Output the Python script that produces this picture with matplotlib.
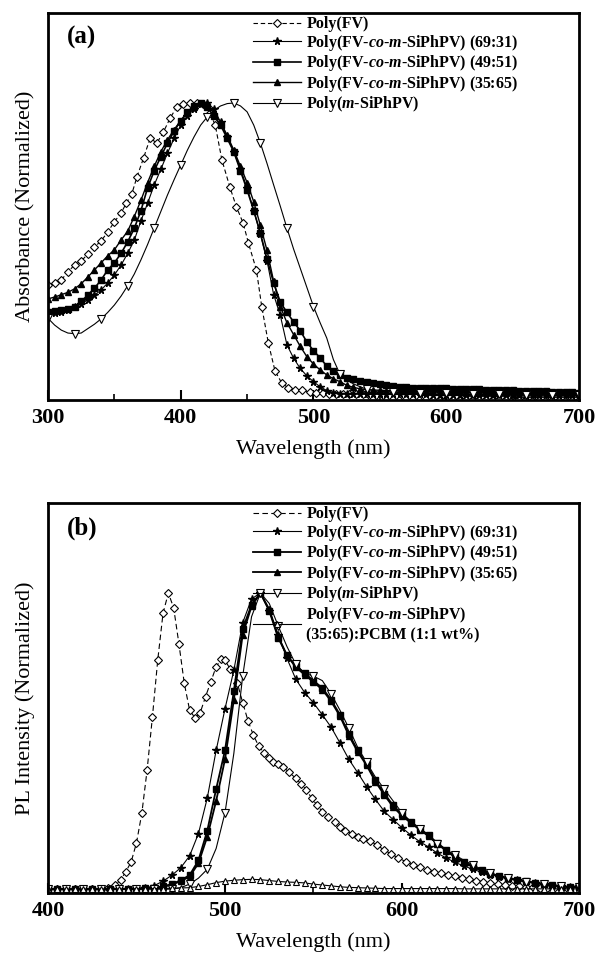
import matplotlib
matplotlib.use('agg')
import matplotlib.pyplot as plt
import numpy as np

plt.rcParams['font.family'] = ['Liberation Serif', 'DejaVu Serif']
plt.rcParams['font.weight'] = 'bold'
plt.rcParams['mathtext.fontset'] = 'custom'
plt.rcParams['mathtext.rm'] = 'Liberation Serif:bold'
plt.rcParams['mathtext.it'] = 'Liberation Serif:bold:italic'

# ---------------- (a) absorbance ----------------
wl_a_fv = [300, 305, 310, 315, 320, 325, 330, 335, 340, 345, 350, 355, 359, 363, 367, 372, 377, 382,
           387, 392, 397, 402, 407, 412, 417, 422, 426, 431, 437, 442, 447, 451, 457, 461, 466, 471,
           476, 481, 486, 491, 497, 502, 507, 512, 517, 522, 527, 532, 537, 542, 547, 552, 557, 562,
           567, 572, 577, 582, 587, 592, 597, 602, 607, 612, 617, 622, 627, 632, 637, 642, 647, 652,
           657, 662, 667, 672, 677, 682, 687, 692, 697]
abs_fv = [0.383, 0.39, 0.40, 0.427, 0.451, 0.464, 0.488, 0.512, 0.532, 0.563, 0.597, 0.627, 0.66, 0.69,
          0.749, 0.814, 0.881, 0.864, 0.902, 0.949, 0.986, 0.997, 1.0, 1.0, 0.997, 0.966, 0.925, 0.807,
          0.715, 0.647, 0.593, 0.525, 0.434, 0.31, 0.186, 0.092, 0.051, 0.034, 0.027, 0.027, 0.02, 0.018,
          0.016, 0.014, 0.013, 0.012, 0.012, 0.012, 0.012, 0.011, 0.011, 0.011, 0.011, 0.011, 0.01, 0.01,
          0.01, 0.01, 0.01, 0.01, 0.01, 0.01, 0.01, 0.01, 0.009, 0.009, 0.009, 0.009, 0.009, 0.009, 0.009,
          0.009, 0.009, 0.008, 0.008, 0.008, 0.008, 0.008, 0.008, 0.008, 0.008]

wl_a = list(range(300, 701, 5))
abs_6931 = [0.285, 0.287, 0.29, 0.298, 0.31, 0.32, 0.332, 0.348, 0.366, 0.39, 0.417, 0.45, 0.49, 0.535,
            0.6, 0.66, 0.722, 0.775, 0.83, 0.88, 0.925, 0.955, 0.98, 0.995, 1.0, 0.98, 0.935, 0.885,
            0.834, 0.775, 0.712, 0.635, 0.555, 0.465, 0.35, 0.28, 0.18, 0.135, 0.1, 0.075, 0.055, 0.038,
            0.025, 0.018, 0.015, 0.014, 0.014, 0.014, 0.013, 0.013, 0.013, 0.013, 0.012, 0.012, 0.012,
            0.012, 0.012, 0.012, 0.011, 0.011, 0.011, 0.011, 0.011, 0.011, 0.011, 0.01, 0.01, 0.01, 0.01,
            0.01, 0.01, 0.01, 0.01, 0.01, 0.01, 0.01, 0.01, 0.01, 0.01, 0.01, 0.01]
abs_4951 = [0.292, 0.295, 0.298, 0.30, 0.308, 0.327, 0.349, 0.372, 0.40, 0.434, 0.458, 0.49, 0.529, 0.575,
            0.635, 0.712, 0.77, 0.818, 0.864, 0.905, 0.94, 0.97, 0.99, 1.0, 0.985, 0.955, 0.925, 0.88,
            0.834, 0.77, 0.705, 0.635, 0.559, 0.47, 0.39, 0.325, 0.29, 0.258, 0.228, 0.19, 0.16, 0.136,
            0.108, 0.09, 0.078, 0.069, 0.063, 0.059, 0.054, 0.052, 0.048, 0.044, 0.041, 0.038, 0.036,
            0.034, 0.034, 0.033, 0.033, 0.032, 0.032, 0.031, 0.031, 0.03, 0.029, 0.029, 0.028, 0.027,
            0.027, 0.026, 0.026, 0.025, 0.024, 0.024, 0.023, 0.022, 0.021, 0.02, 0.02, 0.019, 0.018]
abs_3565 = [0.336, 0.342, 0.35, 0.358, 0.37, 0.387, 0.41, 0.434, 0.458, 0.482, 0.502, 0.535, 0.565, 0.615,
            0.67, 0.73, 0.785, 0.835, 0.875, 0.91, 0.94, 0.965, 0.985, 1.0, 0.99, 0.968, 0.935, 0.89,
            0.84, 0.785, 0.73, 0.665, 0.585, 0.50, 0.395, 0.31, 0.255, 0.215, 0.175, 0.14, 0.115, 0.095,
            0.078, 0.065, 0.055, 0.043, 0.036, 0.031, 0.028, 0.027, 0.026, 0.025, 0.024, 0.023, 0.022,
            0.022, 0.021, 0.021, 0.02, 0.02, 0.02, 0.019, 0.019, 0.018, 0.018, 0.017, 0.017, 0.016, 0.016,
            0.016, 0.015, 0.015, 0.014, 0.014, 0.014, 0.013, 0.013, 0.013, 0.012, 0.012, 0.012]
abs_msi = [0.27, 0.247, 0.23, 0.22, 0.218, 0.22, 0.235, 0.25, 0.268, 0.29, 0.315, 0.345, 0.38, 0.42,
           0.468, 0.52, 0.576, 0.632, 0.688, 0.74, 0.79, 0.84, 0.885, 0.925, 0.953, 0.975, 0.99, 0.998,
           1.0, 0.99, 0.97, 0.925, 0.864, 0.795, 0.722, 0.65, 0.576, 0.505, 0.44, 0.375, 0.31, 0.255,
           0.203, 0.13, 0.08, 0.062, 0.048, 0.038, 0.03, 0.025, 0.022, 0.021, 0.02, 0.019, 0.019, 0.018,
           0.018, 0.017, 0.017, 0.016, 0.016, 0.015, 0.015, 0.014, 0.014, 0.014, 0.013, 0.013, 0.013,
           0.012, 0.012, 0.012, 0.011, 0.011, 0.011, 0.011, 0.01, 0.01, 0.01, 0.01, 0.01]

# ---------------- (b) photoluminescence ----------------
wl_b_fv = [400, 405, 410, 415, 420, 425, 430, 434, 438, 441, 444, 447, 450, 453, 456, 459, 462, 465,
           468, 471, 474, 477, 480, 483, 486, 489, 492, 495, 498, 500, 503, 507, 510, 513, 516, 519,
           522, 525, 527, 530, 533, 536, 540, 543, 546, 549, 552, 555, 558, 562, 565, 568, 572, 575,
           578, 582, 586, 590, 594, 598, 602, 606, 610, 614, 618, 622, 626, 630, 634, 638, 642, 646,
           650, 654, 658, 662, 666, 670, 674, 678, 682, 686, 690, 694, 698]
pl_fv = [0.003, 0.003, 0.003, 0.003, 0.003, 0.004, 0.005, 0.008, 0.017, 0.034, 0.062, 0.095, 0.159,
         0.258, 0.404, 0.583, 0.774, 0.932, 1.0, 0.95, 0.828, 0.696, 0.606, 0.58, 0.597, 0.651, 0.701,
         0.752, 0.777, 0.774, 0.743, 0.696, 0.631, 0.57, 0.522, 0.485, 0.462, 0.443, 0.432, 0.424,
         0.413, 0.398, 0.376, 0.357, 0.337, 0.309, 0.286, 0.264, 0.247, 0.23, 0.213, 0.20, 0.19, 0.179,
         0.173, 0.166, 0.15, 0.135, 0.121, 0.108, 0.096, 0.085, 0.076, 0.068, 0.061, 0.056, 0.051,
         0.046, 0.042, 0.037, 0.032, 0.028, 0.024, 0.02, 0.017, 0.014, 0.012, 0.01, 0.009, 0.008,
         0.007, 0.006, 0.005, 0.005, 0.004]

wl_b = list(range(400, 701, 5))
pl_6931 = [0.003, 0.003, 0.003, 0.003, 0.003, 0.003, 0.003, 0.003, 0.003, 0.003, 0.003, 0.006, 0.015,
           0.03, 0.05, 0.075, 0.115, 0.19, 0.31, 0.47, 0.61, 0.74, 0.90, 0.98, 1.0, 0.94, 0.86, 0.78,
           0.71, 0.665, 0.63, 0.59, 0.548, 0.495, 0.44, 0.395, 0.348, 0.305, 0.265, 0.237, 0.21, 0.185,
           0.163, 0.145, 0.124, 0.108, 0.093, 0.081, 0.07, 0.06, 0.052, 0.045, 0.038, 0.033, 0.028,
           0.023, 0.019, 0.015, 0.012, 0.01, 0.009]
pl_4951 = [0.003, 0.003, 0.003, 0.003, 0.003, 0.003, 0.003, 0.003, 0.003, 0.004, 0.005, 0.006, 0.008,
           0.012, 0.02, 0.033, 0.05, 0.10, 0.20, 0.34, 0.47, 0.67, 0.88, 0.96, 1.0, 0.94, 0.85, 0.79,
           0.755, 0.73, 0.705, 0.68, 0.64, 0.59, 0.525, 0.47, 0.425, 0.37, 0.325, 0.285, 0.255, 0.23,
           0.207, 0.185, 0.158, 0.135, 0.113, 0.095, 0.08, 0.067, 0.055, 0.047, 0.04, 0.035, 0.03,
           0.025, 0.021, 0.017, 0.013, 0.01, 0.009]
pl_3565 = [0.003, 0.003, 0.003, 0.003, 0.003, 0.003, 0.003, 0.003, 0.003, 0.004, 0.005, 0.006, 0.008,
           0.011, 0.018, 0.03, 0.045, 0.09, 0.18, 0.30, 0.44, 0.64, 0.86, 0.955, 1.0, 0.945, 0.855, 0.79,
           0.75, 0.725, 0.70, 0.675, 0.635, 0.585, 0.52, 0.465, 0.42, 0.365, 0.32, 0.28, 0.25, 0.226,
           0.203, 0.182, 0.155, 0.132, 0.11, 0.093, 0.078, 0.065, 0.054, 0.046, 0.039, 0.034, 0.029,
           0.024, 0.02, 0.016, 0.012, 0.01, 0.009]
pl_msi = [0.003, 0.003, 0.003, 0.003, 0.003, 0.003, 0.003, 0.003, 0.003, 0.003, 0.003, 0.003, 0.003,
          0.003, 0.003, 0.008, 0.02, 0.04, 0.07, 0.14, 0.26, 0.46, 0.72, 0.92, 1.0, 0.965, 0.89, 0.82,
          0.76, 0.73, 0.72, 0.705, 0.66, 0.605, 0.545, 0.48, 0.43, 0.38, 0.34, 0.30, 0.26, 0.23, 0.205,
          0.18, 0.155, 0.135, 0.118, 0.10, 0.085, 0.07, 0.058, 0.048, 0.04, 0.034, 0.028, 0.024, 0.02,
          0.016, 0.013, 0.01, 0.009]
pl_pcbm = [0.002, 0.002, 0.002, 0.002, 0.002, 0.003, 0.003, 0.003, 0.003, 0.004, 0.004, 0.004, 0.005,
           0.005, 0.006, 0.007, 0.008, 0.012, 0.018, 0.025, 0.03, 0.033, 0.035, 0.036, 0.035, 0.032,
           0.029, 0.027, 0.026, 0.024, 0.02, 0.017, 0.014, 0.011, 0.009, 0.008, 0.007, 0.006, 0.005,
           0.005, 0.005, 0.005, 0.005, 0.005, 0.005, 0.005, 0.005, 0.004, 0.004, 0.004, 0.004, 0.004,
           0.004, 0.004, 0.004, 0.004, 0.004, 0.004, 0.004, 0.004, 0.004]

lab_fv = 'Poly(FV)'
lab_6931 = r'Poly(FV-$co$-$m$-SiPhPV) (69:31)'
lab_4951 = r'Poly(FV-$co$-$m$-SiPhPV) (49:51)'
lab_3565 = r'Poly(FV-$co$-$m$-SiPhPV) (35:65)'
lab_msi = r'Poly($m$-SiPhPV)'
lab_pcbm = 'Poly(FV-$co$-$m$-SiPhPV)\n(35:65):PCBM (1:1 wt%)'

fig = plt.figure(figsize=(5.97, 9.59), dpi=100)
ax1 = fig.add_axes([0.0804, 0.5829, 0.8894, 0.4035])
ax2 = fig.add_axes([0.0804, 0.0688, 0.8894, 0.4067])

k = 'black'
hollow = dict(mfc='white', mec=k, mew=0.8)

# (a)
ax1.plot(wl_a_fv, abs_fv, ls=(0, (4, 2.5)), lw=0.8, color=k, marker='D', ms=4.5, label=lab_fv, **hollow)
ax1.plot(wl_a, abs_6931, lw=0.8, color=k, marker='*', ms=5.5, label=lab_6931)
ax1.plot(wl_a, abs_4951, lw=1.2, color=k, marker='s', ms=4, label=lab_4951)
ax1.plot(wl_a, abs_3565, lw=1.0, color=k, marker='^', ms=4.5, label=lab_3565)
ax1.plot(wl_a, abs_msi, lw=0.8, color=k, marker='v', ms=5.5, markevery=4, label=lab_msi, **hollow)
ax1.set_xlim(300, 700)
ax1.set_ylim(-0.007, 1.305)
ax1.set_ylabel('Absorbance (Normalized)', fontsize=16, labelpad=9)
ax1.set_xlabel('Wavelength (nm)', fontsize=16, labelpad=8)
ax1.text(0.035, 0.92, '(a)', transform=ax1.transAxes, fontsize=18, fontweight='bold')

# (b)
ax2.plot(wl_b_fv, pl_fv, ls=(0, (5, 3)), lw=0.8, color=k, marker='D', ms=4.5, label=lab_fv, **hollow)
ax2.plot(wl_b, pl_6931, lw=0.8, color=k, marker='*', ms=5.5, label=lab_6931)
ax2.plot(wl_b, pl_4951, lw=1.3, color=k, marker='s', ms=4, label=lab_4951)
ax2.plot(wl_b, pl_3565, lw=1.3, color=k, marker='^', ms=4.5, label=lab_3565)
ax2.plot(wl_b, pl_msi, lw=0.8, color=k, marker='v', ms=5.5, markevery=2, label=lab_msi, **hollow)
ax2.plot(wl_b, pl_pcbm, lw=0.8, color=k, marker='^', ms=5, label=lab_pcbm, **hollow)
ax2.set_xlim(400, 700)
ax2.set_ylim(-0.01, 1.303)
ax2.set_ylabel('PL Intensity (Normalized)', fontsize=16, labelpad=9)
ax2.set_xlabel('Wavelength (nm)', fontsize=16, labelpad=8)
ax2.text(0.035, 0.92, '(b)', transform=ax2.transAxes, fontsize=18, fontweight='bold')

for ax in (ax1, ax2):
    ax.set_yticks([])
    ax.set_xticks(np.arange(ax.get_xlim()[0], 701, 100))
    ax.set_xticks(np.arange(ax.get_xlim()[0] + 50, 700, 100), minor=True)
    ax.tick_params(axis='x', which='major', direction='in', length=7, width=1.5,
                   labelsize=16, pad=6)
    ax.tick_params(axis='x', which='minor', direction='in', length=4, width=1.2)
    for s in ax.spines.values():
        s.set_linewidth(2)
    ax.legend(loc='upper left', bbox_to_anchor=(0.365, 1.02), frameon=False, fontsize=11.5,
              handlelength=3.0, handletextpad=0.35, labelspacing=0.03, borderaxespad=0.3)

plt.savefig('out.png', dpi=100)
